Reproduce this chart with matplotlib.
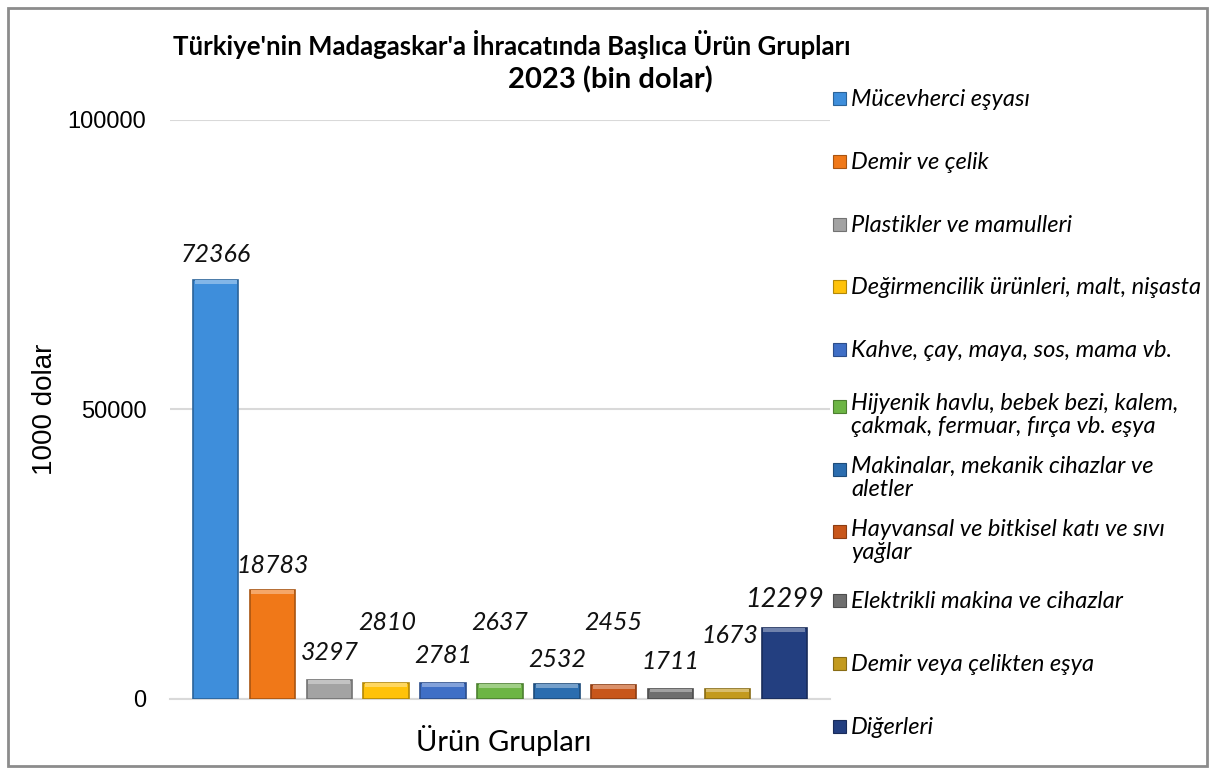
import matplotlib.pyplot as plt
from matplotlib.patches import Rectangle
from matplotlib.colors import to_rgb

# data
categories = [
    "Mücevherci eşyası",
    "Demir ve çelik",
    "Plastikler ve mamulleri",
    "Değirmencilik ürünleri, malt, nişasta",
    "Kahve, çay, maya, sos, mama vb.",
    "Hijyenik havlu, bebek bezi, kalem,\nçakmak, fermuar, fırça vb. eşya",
    "Makinalar, mekanik cihazlar ve\naletler",
    "Hayvansal ve bitkisel katı ve sıvı\nyağlar",
    "Elektrikli makina ve cihazlar",
    "Demir veya çelikten eşya",
    "Diğerleri",
]
values = [72366, 18783, 3297, 2810, 2781, 2637, 2532, 2455, 1711, 1673, 12299]
yticks = [0, 50000, 100000]

colors = ["#3E8EDB", "#F07818", "#A3A3A3", "#FFC20A", "#3F6FC6",
          "#6DB545", "#2B6DAF", "#C8561A", "#6E6E6E", "#C39A1E", "#233F80"]

# label placement (points above bar top), style only
label_dy = [18, 18, 20, 43, 20, 44, 18, 45, 20, 39, 20]
label_dx = [0, 0, 0, 1, 0, 0, 0, 0, 0, 2, 0]

plt.rcParams['font.family'] = ['Lato', 'DejaVu Sans']
arial = ['Liberation Sans', 'DejaVu Sans']


def shade(c, f):
    r, g, b = to_rgb(c)
    if f < 1:
        return (r * f, g * f, b * f)
    f = f - 1
    return (r + (1 - r) * f, g + (1 - g) * f, b + (1 - b) * f)


fig = plt.figure(figsize=(12.15, 7.74), dpi=100)
ax = fig.add_axes([0.14, 0.097, 0.543, 0.748])

x = list(range(len(values)))
ax.bar(x, values, width=0.8, color=colors,
       edgecolor=[shade(c, 0.7) for c in colors], linewidth=1.2, zorder=3)
# bevel highlight along the top
cap = [min(700, v * 0.3) for v in values]
ax.bar(x, cap, width=0.74, bottom=[v - c for v, c in zip(values, cap)],
       color=[shade(c, 1.35) for c in colors], linewidth=0, zorder=4)

for i, v in enumerate(values):
    fs = 19.5 if i == len(values) - 1 else 18
    ax.annotate(str(v), (i, v), xytext=(label_dx[i], label_dy[i]),
                textcoords='offset points', ha='center', va='center',
                fontsize=fs, style='italic', color='#111111')

ax.set_ylim(0, 100000)
ax.set_xlim(-0.8, 10.8)
ax.set_yticks(yticks)
ax.set_yticklabels([str(t) for t in yticks], fontsize=17, family=arial)
ax.set_xticks([])
ax.tick_params(axis='y', length=0, pad=17)
for s in ['top', 'right', 'left']:
    ax.spines[s].set_visible(False)
ax.spines['bottom'].set_color('#D9D9D9')
ax.spines['bottom'].set_linewidth(1.5)
ax.yaxis.grid(True, color='#D9D9D9', linewidth=1.5, zorder=0)
ax.set_axisbelow(True)

ax.set_ylabel("1000 dolar", fontsize=20, family=arial)
ax.yaxis.set_label_coords(-0.17, 0.5)
ax.set_xlabel("Ürün Grupları", fontsize=21)
ax.xaxis.set_label_coords(0.505, -0.045)

fig.text(0.421, 0.942, "Türkiye'nin Madagaskar'a İhracatında Başlıca Ürün Grupları",
         ha='center', va='center', fontsize=18.5, fontweight='bold')
fig.text(0.502, 0.897, "2023 (bin dolar)", ha='center', va='center',
         fontsize=21, fontweight='bold')

# legend, drawn by hand to keep the even spacing
top_px = 98
step_px = 62.8
for i, (lab, c) in enumerate(zip(categories, colors)):
    yp = 1 - (top_px + i * step_px) / 774
    if "\n" in lab:
        yp += 0.008
    fig.add_artist(Rectangle((833 / 1215, yp - 0.009), 13 / 1215, 13 / 774,
                             transform=fig.transFigure, facecolor=c,
                             edgecolor=shade(c, 0.7), linewidth=0.8))
    if "\n" in lab:
        fig.text(851 / 1215, yp + 0.016, lab, ha='left', va='top',
                 fontsize=17, style='italic', linespacing=1.1)
    else:
        fig.text(851 / 1215, yp - 0.002, lab, ha='left', va='center',
                 fontsize=17, style='italic')

# outer frame
fig.add_artist(Rectangle((8 / 1215, 8 / 774), 1199 / 1215, 758 / 774,
                         transform=fig.transFigure, fill=False,
                         edgecolor='#8C8C8C', linewidth=2))

fig.savefig("out.png", dpi=100)
